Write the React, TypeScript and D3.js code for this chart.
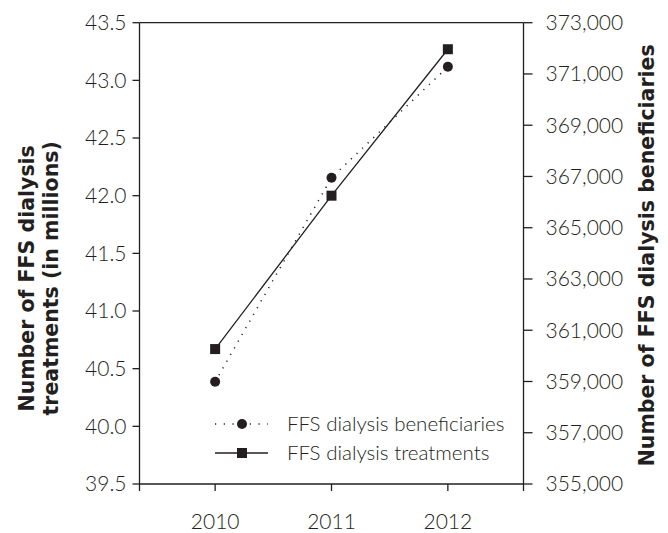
import React from "react";
import * as d3 from "d3";

const years = ["2010", "2011", "2012"];
const treatments = [40.67, 42.0, 43.27];
const beneficiaries = [358990, 366950, 371280];
const leftTicks = [39.5, 40.0, 40.5, 41.0, 41.5, 42.0, 42.5, 43.0, 43.5];
const rightTicks = [355000, 357000, 359000, 361000, 363000, 365000, 367000, 369000, 371000, 373000];
const legendLabels = ["FFS dialysis beneficiaries", "FFS dialysis treatments"];
const leftTitle = ["Number of FFS dialysis", "treatments (in millions)"];
const rightTitle = "Number of FFS dialysis beneficiaries";

const W = 668;
const H = 533;
const L = 139.5;
const R = 523.5;
const T = 22.7;
const B = 484;
const INK = "#231f20";
const FONT = "Lato, 'Open Sans', sans-serif";
const BOLD = "'DejaVu Sans', Lato, sans-serif";

export default function App() {
  const x = d3.scalePoint<string>().domain(years).range([L, R]).padding(0.65);
  const yL = d3.scaleLinear().domain([39.5, 43.5]).range([B, T]);
  const yR = d3.scaleLinear().domain([355000, 373000]).range([B, T]);

  const lineT = d3
    .line<number>()
    .x((_, i) => x(years[i]) as number)
    .y((d) => yL(d));
  const lineB = d3
    .line<number>()
    .x((_, i) => x(years[i]) as number)
    .y((d) => yR(d));

  const fmt = d3.format(",");
  const midY = (T + B) / 2;
  const tickFs = 21;

  return (
    <div style={{ position: "absolute", left: 0, top: 0 }}>
      <svg width={W} height={H} style={{ display: "block", background: "#fff" }}>
        {/* frame */}
        <line x1={L} x2={R} y1={T} y2={T} stroke={INK} strokeWidth={1.3} />
        <line x1={L} x2={R} y1={B} y2={B} stroke={INK} strokeWidth={1.3} />
        <line x1={L} x2={L} y1={T} y2={B + 7} stroke={INK} strokeWidth={1.3} />
        <line x1={R} x2={R} y1={T} y2={B + 7} stroke={INK} strokeWidth={1.3} />

        {/* left axis */}
        {leftTicks.map((t) => (
          <g key={"l" + t}>
            <line x1={L - 7} x2={L} y1={yL(t)} y2={yL(t)} stroke={INK} strokeWidth={1.3} />
            <text
              x={L - 13}
              y={yL(t)}
              dy="0.35em"
              textAnchor="end"
              fontFamily={FONT}
              fontWeight={300}
              fontSize={tickFs}
              fill={INK}
            >
              {t.toFixed(1)}
            </text>
          </g>
        ))}

        {/* right axis */}
        {rightTicks.map((t) => (
          <g key={"r" + t}>
            <line x1={R} x2={R + 9} y1={yR(t)} y2={yR(t)} stroke={INK} strokeWidth={1.3} />
            <text
              x={R + 22}
              y={yR(t)}
              dy="0.35em"
              textAnchor="start"
              fontFamily={FONT}
              fontWeight={300}
              fontSize={tickFs}
              fill={INK}
            >
              {fmt(t)}
            </text>
          </g>
        ))}

        {/* x axis */}
        {years.map((yr) => (
          <g key={yr}>
            <line x1={x(yr)} x2={x(yr)} y1={B} y2={B + 7} stroke={INK} strokeWidth={1.3} />
            <text
              x={x(yr)}
              y={B + 38}
              dy="0.35em"
              textAnchor="middle"
              fontFamily={FONT}
              fontWeight={300}
              fontSize={tickFs}
              fill={INK}
            >
              {yr}
            </text>
          </g>
        ))}

        {/* series */}
        <path
          d={lineB(beneficiaries) || ""}
          fill="none"
          stroke={INK}
          strokeWidth={1.5}
          strokeDasharray="1.2,6.5"
        />
        <path d={lineT(treatments) || ""} fill="none" stroke={INK} strokeWidth={1.3} />
        {beneficiaries.map((v, i) => (
          <circle key={"c" + i} cx={x(years[i])} cy={yR(v)} r={5} fill={INK} />
        ))}
        {treatments.map((v, i) => (
          <rect
            key={"s" + i}
            x={(x(years[i]) as number) - 5}
            y={yL(v) - 5}
            width={10}
            height={10}
            fill={INK}
          />
        ))}

        {/* legend */}
        <g>
          <line x1={215} x2={268} y1={424} y2={424} stroke={INK} strokeWidth={1.5} strokeDasharray="1.2,7.5" />
          <circle cx={242} cy={424} r={5} fill={INK} />
          <text x={287} y={424} dy="0.35em" fontFamily={FONT} fontWeight={300} fontSize={20.5} fill={INK}>
            {legendLabels[0]}
          </text>
          <line x1={215} x2={268} y1={453} y2={453} stroke={INK} strokeWidth={1.3} />
          <rect x={237} y={448} width={10} height={10} fill={INK} />
          <text x={287} y={453} dy="0.35em" fontFamily={FONT} fontWeight={300} fontSize={20.5} fill={INK}>
            {legendLabels[1]}
          </text>
        </g>

        {/* axis titles */}
        <text
          transform={`translate(27,${midY + 25}) rotate(-90)`}
          textAnchor="middle"
          dy="0.35em"
          fontFamily={BOLD}
          fontWeight={700}
          fontSize={20.5}
          fill={INK}
        >
          {leftTitle[0]}
        </text>
        <text
          transform={`translate(51,${midY + 25}) rotate(-90)`}
          textAnchor="middle"
          dy="0.35em"
          fontFamily={BOLD}
          fontWeight={700}
          fontSize={20.5}
          fill={INK}
        >
          {leftTitle[1]}
        </text>
        <text
          transform={`translate(647,${midY + 2}) rotate(-90)`}
          textAnchor="middle"
          dy="0.35em"
          fontFamily={BOLD}
          fontWeight={700}
          fontSize={20.5}
          fill={INK}
        >
          {rightTitle}
        </text>
      </svg>
    </div>
  );
}
